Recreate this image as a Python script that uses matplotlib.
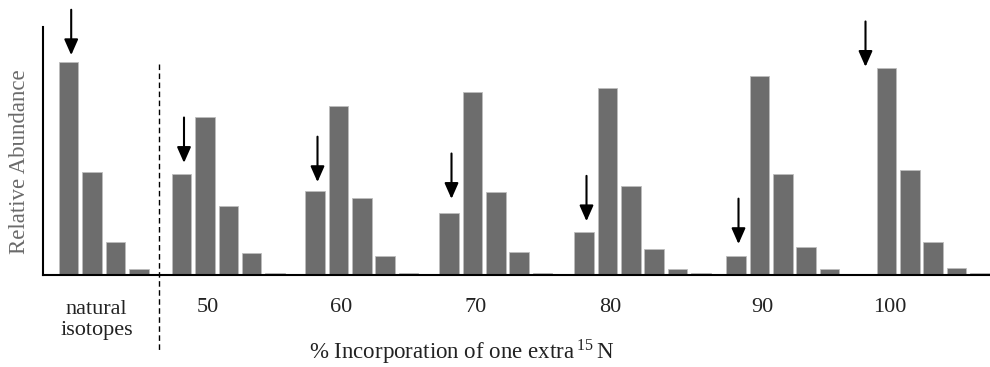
import matplotlib
matplotlib.use("Agg")
import matplotlib.pyplot as plt

# Relative abundance of each isotopic peak, per labelling level
group_labels = ["natural\nisotopes", "50", "60", "70", "80", "90", "100"]
abundances = [
    [100.0, 48.4, 15.5, 2.8],
    [47.7, 74.2, 32.4, 10.6, 0.9],
    [39.6, 79.6, 36.4, 9.1, 0.9],
    [29.1, 86.2, 39.0, 10.8, 0.9],
    [20.2, 87.8, 41.9, 12.2, 2.8, 0.9],
    [9.1, 93.4, 47.7, 13.1, 2.8],
    [0.0, 97.3, 49.3, 15.5, 3.6, 0.9],
]
# height of each arrow tip (same units as abundances)
arrow_tips = [103.4, 52.8, 43.8, 35.9, 25.4, 14.7, 97.9]

# layout (x in pixel-like units along the axis)
group_starts = [68.7, 181.5, 315.0, 449.0, 584.0, 736.0, 863.0]
pitch = 23.4
bar_width = 19.5
arrow_len = 21.3
bar_color = "#6d6d6d"

W, H = 990, 367
fig = plt.figure(figsize=(W / 100, H / 100), dpi=100)
base_px, top_px, left_px = 275.3, 27.0, 43.0
ax = fig.add_axes([left_px / W, 1 - base_px / H, (W - left_px) / W, (base_px - top_px) / H])
ax.set_xlim(left_px, W)
ax.set_ylim(0, 116.6)

serif = ["Liberation Serif", "DejaVu Serif"]
fs = 16

for g, (x0, vals) in enumerate(zip(group_starts, abundances)):
    xs = [x0 + i * pitch for i in range(len(vals))]
    ax.bar(xs, vals, width=bar_width, color=bar_color, edgecolor="#bdbdbd",
           linewidth=0.6, zorder=2)
    ax_x = x0 + 2.5
    ax.annotate("", xy=(ax_x, arrow_tips[g]), xytext=(ax_x, arrow_tips[g] + arrow_len),
                arrowprops=dict(arrowstyle="-|>,head_length=0.95,head_width=0.42",
                                mutation_scale=10, lw=1.5, color="black",
                                shrinkA=0, shrinkB=0),
                annotation_clip=False, zorder=3)

# group labels under the axis
for g, lab in enumerate(group_labels):
    if g == 0:
        fig.text(96.7 / W, 1 - 320 / H, lab, ha="center", va="center",
                 fontsize=fs, family=serif, color="#222222", linespacing=1.1)
    else:
        xc = group_starts[g] + pitch + 3
        fig.text(xc / W, 1 - 308 / H, lab, ha="center", va="center",
                 fontsize=fs, family=serif, color="#222222")

# dashed separator between the natural pattern and the labelled ones
fig.add_artist(plt.Line2D([159 / W, 159 / W], [1 - 64 / H, 1 - 350 / H],
                          transform=fig.transFigure, color="black", lw=1.0,
                          linestyle=(0, (4, 2.5))))

fig.text(461.5 / W, 1 - 352 / H,
         r"% Incorporation of one extra$\,^{\mathregular{15}}\,$N",
         ha="center", va="center", fontsize=16.5, family=serif, color="#222222",
         math_fontfamily="stix")
fig.text(20 / W, 1 - 162 / H, "Relative Abundance", rotation=90, ha="center",
         va="center", fontsize=16.5, family=serif, color="#6a6a6a")

for side in ("top", "right"):
    ax.spines[side].set_visible(False)
ax.spines["left"].set_linewidth(1.5)
ax.spines["bottom"].set_linewidth(1.5)
ax.set_xticks([])
ax.set_yticks([])
ax.set_facecolor("none")

fig.savefig("out.png", dpi=100)
